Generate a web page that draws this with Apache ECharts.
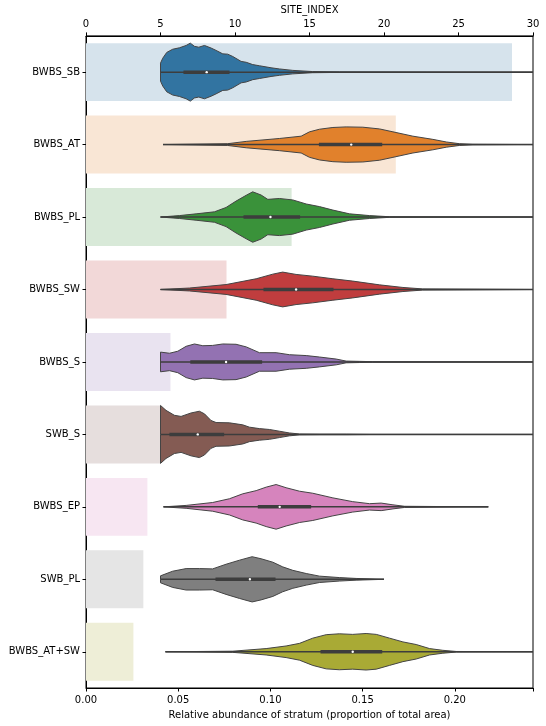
<!DOCTYPE html>
<html>
<head>
<meta charset="utf-8">
<script src="https://cdn.jsdelivr.net/npm/echarts@6/dist/echarts.min.js"></script>
<style>
html,body{margin:0;padding:0;background:#fff;}
#chart{width:546px;height:726px;}
</style>
</head>
<body>
<div id="chart"></div>
<script>
// ---- data ----
const categories = ['BWBS_SB','BWBS_AT','BWBS_PL','BWBS_SW','BWBS_S','SWB_S','BWBS_EP','SWB_PL','BWBS_AT+SW'];
const abundance = [0.231, 0.168, 0.1115, 0.0762, 0.0458, 0.0405, 0.0333, 0.0311, 0.0257];
const siteTicks = [0, 5, 10, 15, 20, 25, 30];
const abundanceTicks = [0.00, 0.05, 0.10, 0.15, 0.20];

// box statistics of SITE_INDEX per stratum
const siteMin = [5.0, 5.17, 5.0, 5.0, 5.0, 5.0, 5.2, 5.0, 5.33];
const siteMax = [31, 31, 31, 31, 31, 31, 27.0, 20.0, 31];
const q1 = [6.54, 15.63, 10.57, 11.91, 7.0, 5.6, 11.53, 8.69, 15.74];
const med = [8.1, 17.8, 12.38, 14.1, 9.4, 7.5, 13.0, 11.0, 17.9];
const q3 = [9.63, 19.88, 14.37, 16.61, 11.82, 9.27, 15.11, 12.72, 19.88];

// violin outlines: [SITE_INDEX, relative half-width]
const vSB = [[5.0,0],[5.0,0.31],[5.15,0.48],[5.42,0.68],[5.82,0.79],[6.27,0.84],[6.72,0.92],[7.0,1.0],[7.28,0.89],[7.57,0.86],[7.95,0.92],[8.4,0.83],[8.73,0.75],[9.18,0.63],[9.51,0.62],[9.85,0.54],[10.41,0.37],[10.75,0.34],[11.19,0.26],[11.64,0.22],[12.42,0.15],[12.98,0.11],[13.88,0.06],[15.2,0.02],[17.0,0.01],[31,0]];
const vAT = [[5.17,0],[9.5,0.03],[10.75,0.11],[12.98,0.21],[14.44,0.29],[15.0,0.44],[15.67,0.53],[16.57,0.59],[17.46,0.61],[18.58,0.6],[19.7,0.54],[20.6,0.44],[21.94,0.29],[23.28,0.18],[24.18,0.09],[25.07,0.03],[25.97,0.01],[31,0]];
const vPL = [[5.0,0],[6.27,0.05],[7.39,0.11],[8.62,0.18],[9.4,0.33],[10.07,0.55],[10.75,0.75],[11.19,0.87],[11.75,0.76],[12.2,0.61],[12.98,0.64],[13.88,0.59],[14.78,0.45],[15.67,0.36],[16.57,0.24],[17.69,0.11],[19.03,0.05],[20.37,0.01],[31,0]];
const vSW = [[5.0,0],[6.94,0.05],[9.4,0.17],[11.42,0.37],[12.54,0.53],[13.2,0.6],[14.1,0.52],[15.22,0.46],[16.57,0.37],[17.9,0.29],[19.7,0.16],[21.27,0.07],[22.6,0.02],[31,0]];
const vS = [[5.0,0],[5.0,0.34],[5.6,0.3],[6.16,0.37],[6.72,0.54],[7.28,0.62],[7.84,0.56],[8.5,0.57],[9.18,0.62],[10.07,0.61],[10.75,0.52],[11.64,0.32],[12.76,0.32],[13.66,0.25],[14.78,0.22],[15.67,0.17],[16.79,0.1],[17.46,0.03],[18.36,0.02],[19.25,0.01],[31,0]];
const vSWBS = [[5.0,0],[5.0,1.0],[5.37,0.83],[5.93,0.66],[6.38,0.62],[7.05,0.74],[7.61,0.8],[7.95,0.71],[8.39,0.48],[8.73,0.41],[9.62,0.4],[10.52,0.33],[10.97,0.25],[11.64,0.2],[12.31,0.17],[12.98,0.11],[13.65,0.05],[14.33,0.015],[15.7,0.01],[17.5,0.01],[19.0,0.004],[31,0]];
const vEP = [[5.2,0],[6.72,0.05],[8.5,0.15],[9.63,0.28],[10.52,0.45],[11.42,0.56],[12.09,0.68],[12.76,0.77],[13.43,0.66],[14.33,0.54],[15.22,0.47],[16.57,0.31],[17.9,0.18],[19.03,0.11],[19.81,0.13],[20.6,0.07],[21.38,0.02],[27.0,0]];
const vSWBPL = [[5.0,0],[5.0,0.12],[5.82,0.28],[6.72,0.37],[7.61,0.37],[8.5,0.36],[9.4,0.52],[10.3,0.66],[11.15,0.78],[11.75,0.71],[12.54,0.59],[13.2,0.43],[13.88,0.31],[14.78,0.2],[15.67,0.11],[17.0,0.06],[18.13,0.03],[20.0,0]];
const vATSW = [[5.33,0],[9.85,0.02],[12.09,0.11],[13.43,0.2],[14.33,0.29],[15.22,0.47],[16.12,0.59],[17.0,0.62],[17.9,0.6],[18.8,0.63],[19.48,0.6],[20.37,0.47],[21.27,0.34],[22.16,0.25],[23.06,0.11],[23.95,0.05],[24.85,0.01],[31,0]];
const violins = [vSB, vAT, vPL, vSW, vS, vSWBS, vEP, vSWBPL, vATSW];

// ---- style ----
const palette = ['#3274a1','#e1812c','#3a923a','#c03d3e','#9372b2','#845b53','#d684bd','#7f7f7f','#a9aa35'];
function light(hex, a) {
  const r = parseInt(hex.slice(1,3),16), g = parseInt(hex.slice(3,5),16), b = parseInt(hex.slice(5,7),16);
  const m = v => Math.round(255*(1-a) + v*a);
  return 'rgb(' + m(r) + ',' + m(g) + ',' + m(b) + ')';
}
const FONT = 'DejaVu Sans';
const SI_MAX = siteTicks[siteTicks.length-1];

const chart = echarts.init(document.getElementById('chart'), null, {renderer: 'canvas'});

function renderViolin(params, api) {
  const i = params.dataIndex;
  const shape = violins[i];
  const half = api.size([0, 1])[1] * 0.4;
  const pt = (s, w, sign) => {
    const c = api.coord([Math.min(s, SI_MAX), i]);
    return [c[0], c[1] + sign * w * half];
  };
  const upper = shape.map(p => pt(p[0], p[1], -1));
  const lower = shape.slice().reverse().map(p => pt(p[0], p[1], 1));
  const a = api.coord([siteMin[i], i]);
  const b = api.coord([Math.min(siteMax[i], SI_MAX), i]);
  const c1 = api.coord([q1[i], i]);
  const c3 = api.coord([q3[i], i]);
  const cm = api.coord([med[i], i]);
  return {
    type: 'group',
    children: [
      {type: 'polygon', shape: {points: upper.concat(lower)}, style: {fill: palette[i], stroke: '#444', lineWidth: 1}},
      {type: 'line', shape: {x1: a[0], y1: a[1], x2: b[0], y2: b[1]}, style: {stroke: '#3d3d3d', lineWidth: 1.5}},
      {type: 'line', shape: {x1: c1[0], y1: c1[1], x2: c3[0], y2: c3[1]}, style: {stroke: '#3d3d3d', lineWidth: 3.5}},
      {type: 'circle', shape: {cx: cm[0], cy: cm[1], r: 1.2}, style: {fill: '#fff'}}
    ]
  };
}

const option = {
  animation: false,
  backgroundColor: '#fff',
  textStyle: {fontFamily: FONT},
  grid: {left: 86, right: 13, top: 35, bottom: 38, show: true, borderColor: '#000', borderWidth: 1, backgroundColor: 'transparent'},
  xAxis: [
    {
      type: 'value', position: 'bottom', min: abundanceTicks[0], max: 0.2424, interval: 0.05,
      name: 'Relative abundance of stratum (proportion of total area)', nameLocation: 'middle', nameGap: 22,
      nameTextStyle: {color: '#000', fontSize: 10, fontFamily: FONT},
      axisLine: {show: true, lineStyle: {color: '#000', width: 1}},
      axisTick: {show: true, length: 3.5, lineStyle: {color: '#000'}},
      axisLabel: {color: '#000', fontSize: 10, fontFamily: FONT, margin: 7,
        formatter: v => abundanceTicks.some(t => Math.abs(t - v) < 1e-9) ? v.toFixed(2) : ''},
      splitLine: {show: false}
    },
    {
      type: 'value', position: 'top', min: siteTicks[0], max: SI_MAX, interval: 5,
      name: 'SITE_INDEX', nameLocation: 'middle', nameGap: 17,
      nameTextStyle: {color: '#000', fontSize: 10, fontFamily: FONT},
      axisLine: {show: true, lineStyle: {color: '#000', width: 1}},
      axisTick: {show: true, length: 3.5, lineStyle: {color: '#000'}},
      axisLabel: {color: '#000', fontSize: 10, fontFamily: FONT, margin: 6},
      splitLine: {show: false}
    }
  ],
  yAxis: {
    type: 'category', data: categories, inverse: true,
    axisLine: {show: true, lineStyle: {color: '#000', width: 1}},
    axisTick: {show: true, length: 3.5, alignWithLabel: true, lineStyle: {color: '#000'}},
    axisLabel: {color: '#000', fontSize: 10, fontFamily: FONT, margin: 6},
    splitLine: {show: false}
  },
  series: [
    {
      type: 'bar', xAxisIndex: 0, yAxisIndex: 0, barWidth: '80%', z: 1,
      data: abundance.map((v, i) => ({value: v, itemStyle: {color: light(palette[i], 0.2)}}))
    },
    {
      type: 'custom', xAxisIndex: 1, yAxisIndex: 0, z: 3, clip: true,
      renderItem: renderViolin,
      encode: {x: 0, y: 1},
      data: categories.map((c, i) => [med[i], i])
    }
  ]
};
chart.setOption(option);
</script>
</body>
</html>
